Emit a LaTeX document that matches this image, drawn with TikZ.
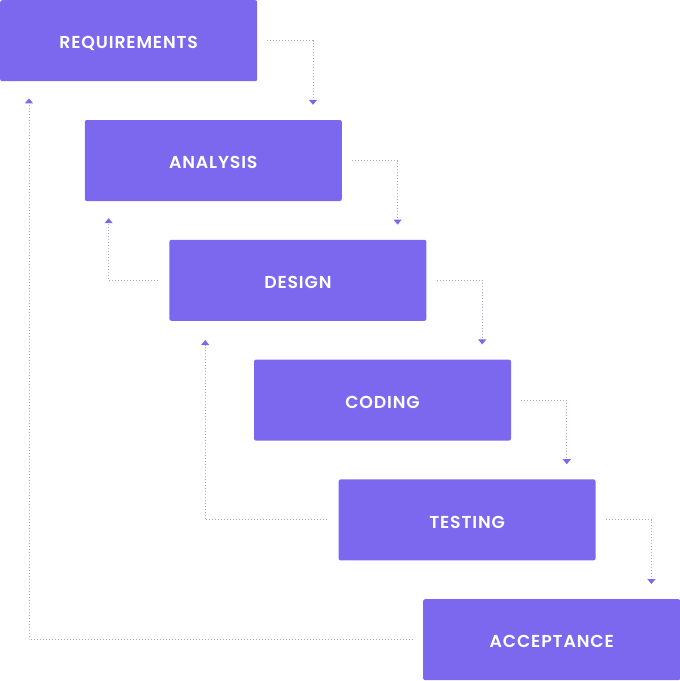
\documentclass[tikz,border=0pt]{standalone}
\usepackage{fontspec}
\setmainfont{Poppins}[UprightFont={* SemiBold},LetterSpace=5]
\usetikzlibrary{arrows.meta}
\definecolor{phasefill}{HTML}{7B68EE}
\definecolor{linkgray}{HTML}{A9A5D9}

\begin{document}
\begin{tikzpicture}[x=1pt,y=-1pt]
    \tikzstyle{phase}=[rectangle,fill=phasefill,rounded corners=2pt,text=white,font=\fontsize{17.3}{17}\selectfont,text height=16.5pt,text depth=0pt,minimum width=257pt,minimum height=81pt,inner sep=0pt,anchor=north west]
    \tikzstyle{link}=[draw=linkgray,line width=1pt,dash pattern=on 1pt off 2pt,-{Triangle[width=8pt,length=5pt,color=phasefill]}]
    \useasboundingbox (0,0) rectangle (680,681);
    \node[phase] (req) at (0,0) {REQUIREMENTS};
    \node[phase] (ana) at (84.6,119.8) {ANALYSIS};
    \node[phase] (des) at (169.2,239.6) {DESIGN};
    \node[phase] (cod) at (253.8,359.4) {CODING};
    \node[phase] (tes) at (338.4,479.2) {TESTING};
    \node[phase] (acc) at (423,599) {ACCEPTANCE};
    % going down
    \draw[link] ([xshift=10pt]req.east) -| ([xshift=-29pt,yshift=15pt]ana.north east);
    \draw[link] ([xshift=10pt]ana.east) -| ([xshift=-29pt,yshift=15pt]des.north east);
    \draw[link] ([xshift=10pt]des.east) -| ([xshift=-29pt,yshift=15pt]cod.north east);
    \draw[link] ([xshift=10pt]cod.east) -| ([xshift=-29pt,yshift=15pt]tes.north east);
    \draw[link] ([xshift=10pt]tes.east) -| ([xshift=-29pt,yshift=15pt]acc.north east);
    % going back
    \draw[link] ([xshift=-11pt]des.west) -| ([xshift=24pt,yshift=-17pt]ana.south west);
    \draw[link] ([xshift=-11pt]tes.west) -| ([xshift=36pt,yshift=-19pt]des.south west);
    \draw[link] ([xshift=-10pt]acc.west) -| ([xshift=29pt,yshift=-17pt]req.south west);
\end{tikzpicture}
\end{document}
